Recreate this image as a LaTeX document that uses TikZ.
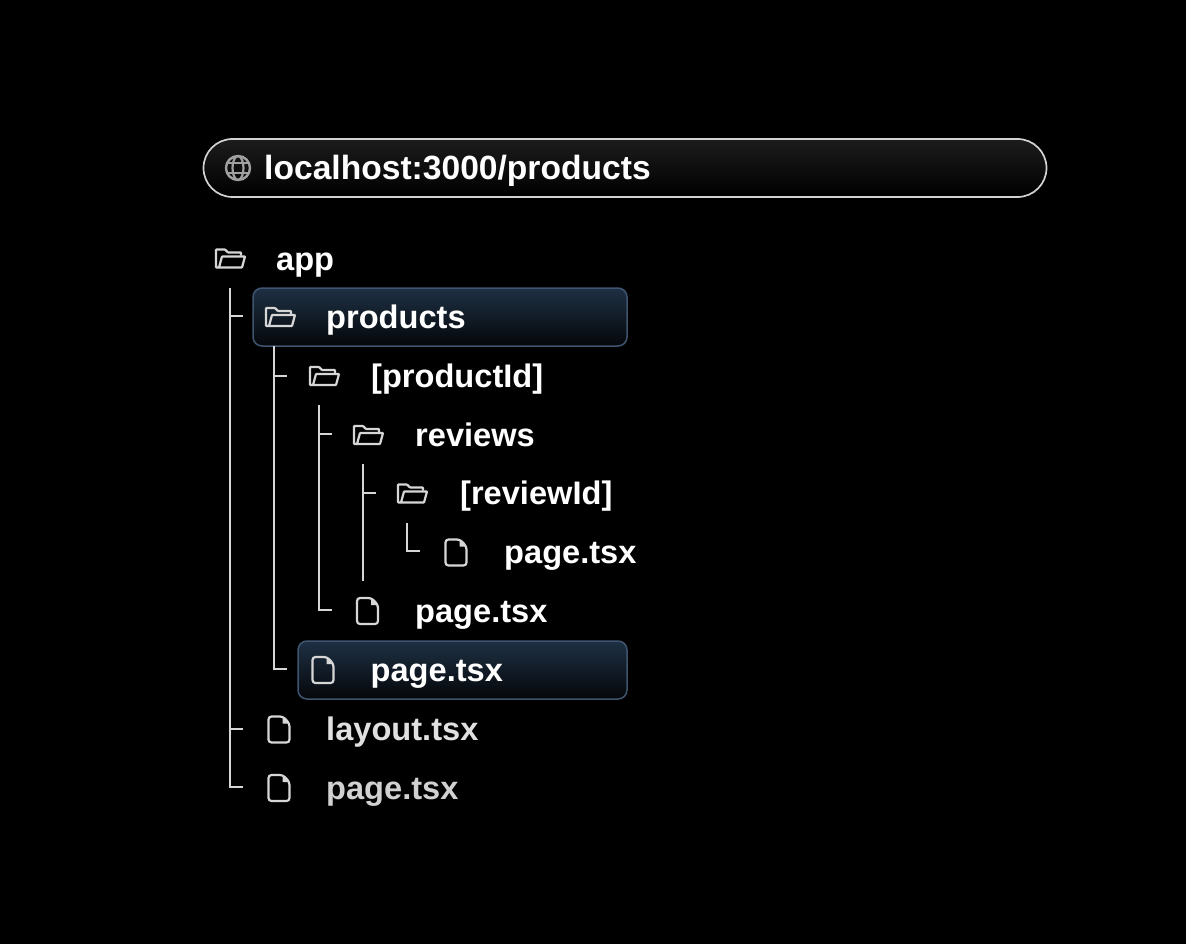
\documentclass[tikz,border=0pt]{standalone}
\usepackage{fontspec}
\setmainfont{Liberation Sans}
\definecolor{linegray}{HTML}{D6D6D6}
\definecolor{boxtop}{HTML}{1E3044}
\definecolor{boxbottom}{HTML}{05070A}
\definecolor{boxline}{HTML}{3F546E}
\definecolor{bartop}{HTML}{1C1C1C}
\definecolor{barline}{HTML}{D2D2D2}
\definecolor{globegray}{HTML}{A0A0A0}
\tikzset{
    treeline/.style = {draw=linegray, line width=2pt},
    rowbox/.style = {draw=boxline, line width=1.5pt, rounded corners=9pt, top color=boxtop, bottom color=boxbottom, minimum height=58pt, inner sep=0pt},
    urlbox/.style = {draw=barline, line width=1.7pt, rounded corners=29pt, top color=bartop, bottom color=black, minimum height=58pt, minimum width=843pt, inner sep=0pt},
    label/.style = {anchor=base west, inner sep=0pt, text=white, font=\fontsize{32.6}{33}\selectfont\bfseries},
    folderpic/.pic = {
        \draw[linegray, line width=2.2pt, rounded corners=0.6pt] (-11,9) -- (-14,9) -- (-14,-9) -- (-5,-9) -- (-2,-6) -- (11,-6) -- (11,-3);
        \draw[linegray, line width=2.2pt, rounded corners=0.6pt] (-8,-2) -- (15,-2) -- (12,9) -- (-11,9) -- cycle;
    },
    filepic/.pic = {
        \draw[linegray, line width=2.2pt, rounded corners=3pt] (-10.5,-13) -- (4,-13) -- (10.5,-6) -- (10.5,13) -- (-10.5,13) -- cycle;
        \fill[linegray] (3.5,-13) -- (3.5,-6) -- (10.5,-6) -- cycle;
    },
    globepic/.pic = {
        \draw[globegray, line width=2.4pt] (0,0) circle (12);
        \draw[globegray, line width=2.2pt] (0,0) ellipse (5.5 and 12);
        \draw[globegray, line width=2.2pt] (-11,-5) -- (11,-5);
        \draw[globegray, line width=2.2pt] (-11,5) -- (11,5);
    }
}

\begin{document}
\begin{tikzpicture}[x=1pt, y=-1pt]
    % Background
    \fill[black] (0,0) rectangle (1186,944);

    % Address bar
    \node (urlbar) [urlbox] at (625,168) {};
    \pic at (238,168) {globepic};
    \node (urltext) [label, font=\fontsize{33.6}{34}\selectfont\bfseries] at (264,179.5) {localhost:3000/products};

    % Highlighted rows
    \node (productsbox) [rowbox, minimum width=374pt] at (440,317) {};
    \node (pagebox) [rowbox, minimum width=329pt] at (462.5,670) {};

    % Folder and file icons
    \pic at (230,258.5) {folderpic};
    \pic at (280,317) {folderpic};
    \pic at (324,376) {folderpic};
    \pic at (368,435) {folderpic};
    \pic at (412,493.5) {folderpic};
    \pic at (456,552.5) {filepic};
    \pic at (367.5,611) {filepic};
    \pic at (323,670) {filepic};
    \pic at (279,729.5) {filepic};
    \pic at (279,788) {filepic};

    % Labels
    \node (app) [label] at (276,270) {app};
    \node (products) [label] at (326,328.5) {products};
    \node (productid) [label] at (371,387.5) {[productId]};
    \node (reviews) [label] at (415,446) {reviews};
    \node (reviewid) [label] at (460,504.5) {[reviewId]};
    \node (pageA) [label] at (504,563.5) {page.tsx};
    \node (pageB) [label] at (415,622.5) {page.tsx};
    \node (pageC) [label] at (370.5,681.5) {page.tsx};
    \node (layout) [label, text=white!88!black] at (326,740.5) {layout.tsx};
    \node (pageD) [label, text=white!82!black] at (326,799.5) {page.tsx};

    % Tree lines
    \coordinate (a0) at (230,288);
    \coordinate (a1) at (230,316);
    \coordinate (a2) at (230,729);
    \coordinate (a3) at (230,787);
    \draw[treeline] (a0) -- (a3) -- ++(13,0);
    \draw[treeline] (a1) -- ++(13,0);
    \draw[treeline] (a2) -- ++(13,0);

    \coordinate (b0) at (274,346);
    \coordinate (b1) at (274,376);
    \coordinate (b2) at (274,669);
    \draw[treeline] (b0) -- (b2) -- ++(13,0);
    \draw[treeline] (b1) -- ++(13,0);

    \coordinate (c0) at (318.5,405);
    \coordinate (c1) at (318.5,434);
    \coordinate (c2) at (318.5,610);
    \draw[treeline] (c0) -- (c2) -- ++(13,0);
    \draw[treeline] (c1) -- ++(13,0);

    \coordinate (d0) at (363,464);
    \coordinate (d1) at (363,493);
    \coordinate (d2) at (363,581);
    \draw[treeline] (d0) -- (d2);
    \draw[treeline] (d1) -- ++(13,0);

    \coordinate (e0) at (407,523);
    \coordinate (e1) at (407,551);
    \draw[treeline] (e0) -- (e1) -- ++(13,0);
\end{tikzpicture}
\end{document}
